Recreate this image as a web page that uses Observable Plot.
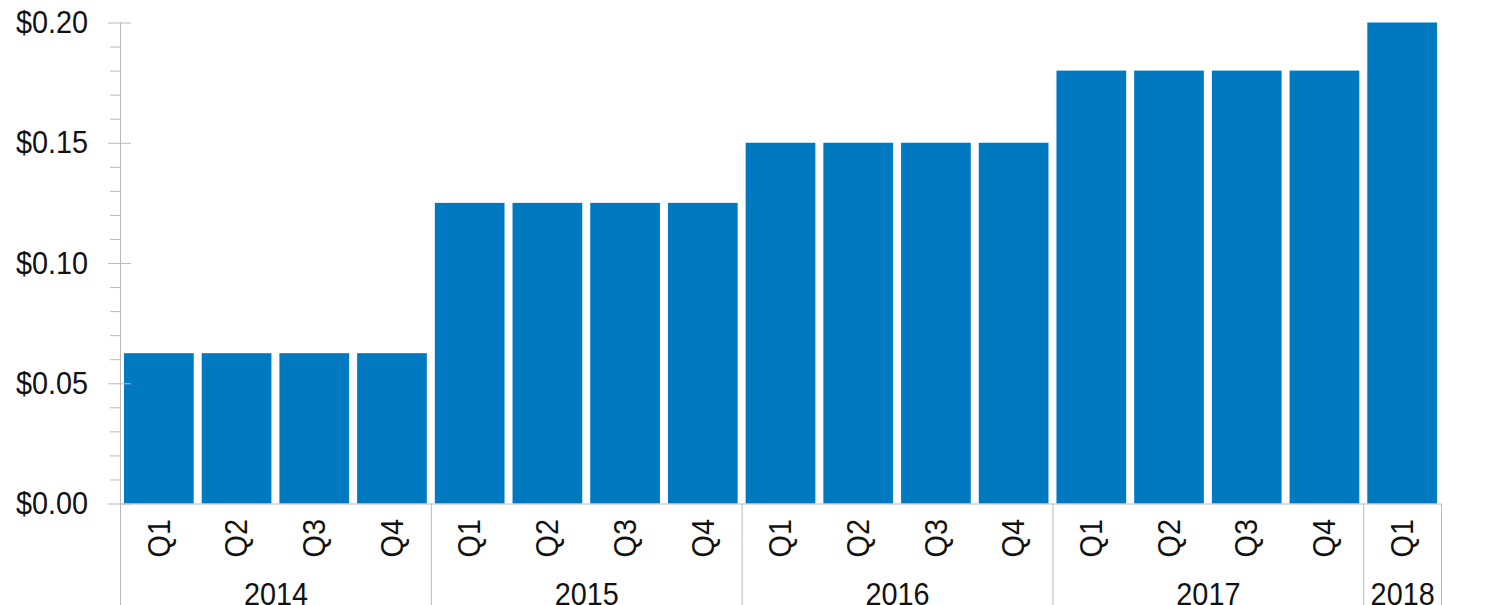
<!DOCTYPE html>
<html>
<head>
<meta charset="utf-8">
<script src="https://cdn.jsdelivr.net/npm/d3@7"></script>
<script src="https://cdn.jsdelivr.net/npm/@observablehq/plot@0.6"></script>
<style>
  html, body { margin: 0; padding: 0; background: #fff; }
  #chart svg { display: block; }
</style>
</head>
<body>
<div id="chart"></div>
<script>
const years     = ["2014","2014","2014","2014","2015","2015","2015","2015","2016","2016","2016","2016","2017","2017","2017","2017","2018"];
const quarters  = ["Q1","Q2","Q3","Q4","Q1","Q2","Q3","Q4","Q1","Q2","Q3","Q4","Q1","Q2","Q3","Q4","Q1"];
const dividends = [0.0625,0.0625,0.0625,0.0625,0.125,0.125,0.125,0.125,0.15,0.15,0.15,0.15,0.18,0.18,0.18,0.18,0.20];
const yearLabels = ["2014","2015","2016","2017","2018"];
const yMajorTicks = [0, 0.05, 0.10, 0.15, 0.20];
const yMinorTicks = [0.01,0.02,0.03,0.04,0.06,0.07,0.08,0.09,0.11,0.12,0.13,0.14,0.16,0.17,0.18,0.19];

const data = quarters.map((q, i) => ({i, year: years[i], quarter: q, value: dividends[i]}));
const groups = yearLabels.map(y => {
  const idx = data.filter(d => d.year === y).map(d => d.i);
  return {year: y, start: d3.min(idx), end: d3.max(idx) + 1};
});
const edges = groups.slice(1).map(g => g.start).concat([quarters.length]);

const BLUE = "#0079c1";
const GRAY = "#bababa";
const INK = "#111";
const FONT = '"Liberation Sans", Arial, sans-serif';

const chart = Plot.plot({
  width: 1500,
  height: 605,
  marginLeft: 120,
  marginRight: 59,
  marginTop: 22.5,
  marginBottom: 101.5,
  style: {fontFamily: FONT, fontSize: "32px", color: INK, background: "#fff"},
  x: {domain: [0, quarters.length], axis: null},
  y: {domain: [0, 0.2], axis: null},
  marks: [
    Plot.rectY(data, {x1: "i", x2: d => d.i + 1, y: "value", fill: BLUE, insetLeft: 4, insetRight: 4}),
    Plot.ruleY([0], {stroke: GRAY}),
    Plot.ruleX([0], {y1: 0.2, y2: 0, insetBottom: -102, stroke: GRAY}),
    Plot.ruleX(edges, {x: d => d, y1: 0, y2: 0, insetBottom: -102, stroke: GRAY}),
    Plot.ruleY(yMajorTicks, {y: d => d, x1: 0, x2: 0, insetLeft: -12, insetRight: -11, stroke: GRAY}),
    Plot.ruleY(yMinorTicks, {y: d => d, x1: 0, x2: 0, insetLeft: -10, stroke: GRAY}),
    Plot.text(yMajorTicks, {y: d => d, x: 0, dx: -32.5, textAnchor: "end", lineAnchor: "middle",
      text: d => "$" + d.toFixed(2), fill: INK}),
    Plot.text(data, {x: d => d.i + 0.5, y: 0, text: "quarter", rotate: -90, textAnchor: "end",
      lineAnchor: "middle", dy: 15, fill: INK}),
    Plot.text(groups, {x: d => (d.start + d.end) / 2, y: 0, text: "year", lineAnchor: "bottom",
      dy: 100.5, fill: INK})
  ]
});
// condense glyphs along the reading direction (narrow typeface look)
d3.select(chart).selectAll("text").each(function () {
  const t = this.getAttribute("transform") || "";
  this.setAttribute("transform", t + " scale(0.9,1)");
});
document.getElementById("chart").appendChild(chart);
</script>
</body>
</html>
